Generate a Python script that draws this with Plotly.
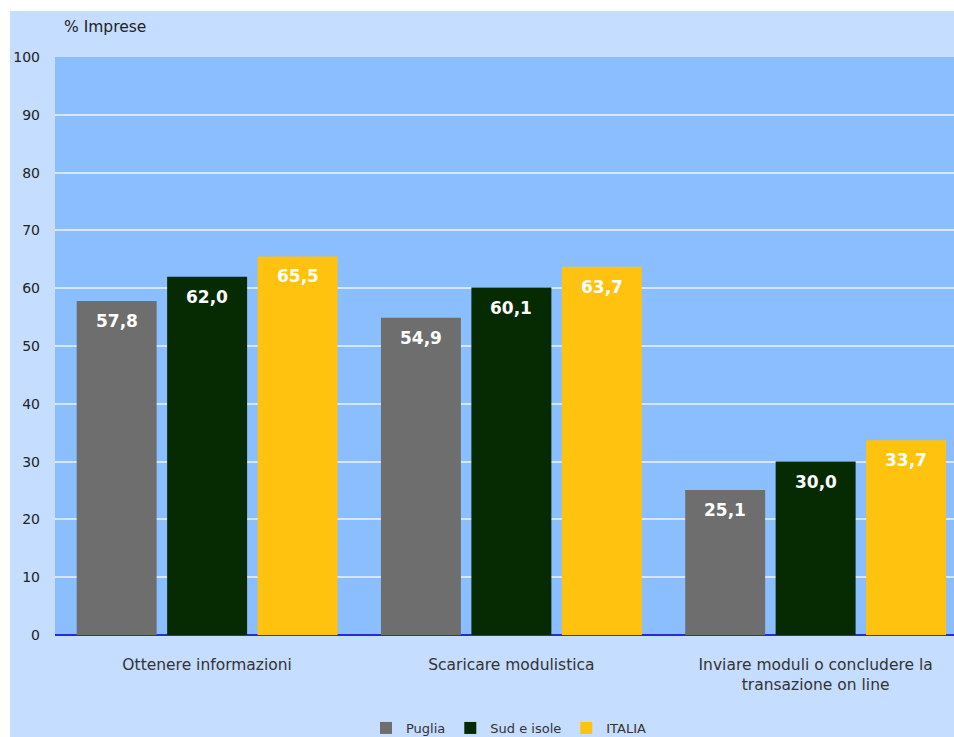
import plotly.graph_objects as go

categories = ["Ottenere informazioni", "Scaricare modulistica",
              "Inviare moduli o concludere la<br>transazione on line"]
series_names = ["Puglia", "Sud e isole", "ITALIA"]
puglia = [57.8, 54.9, 25.1]
sud = [62.0, 60.1, 30.0]
italia = [65.5, 63.7, 33.7]
colors = ["#6E6E6E", "#062A02", "#FFC20E"]
y_ticks = list(range(0, 101, 10))

W, H = 954, 737
L, R, T, B = 55, 0, 57, 102
pw = W - L - R
ph = H - T - B
BARGAP, GROUPGAP = 0.108, 0.116
slot = (1 - BARGAP) / len(series_names)

fig = go.Figure()
for j, (name, vals, col) in enumerate(zip(series_names, [puglia, sud, italia], colors)):
    fig.add_trace(go.Bar(
        x=list(range(len(categories))), y=vals, name=name,
        marker=dict(color=col, line=dict(width=0)),
    ))
    for i, v in enumerate(vals):
        fig.add_annotation(
            x=i + (j - 1) * slot, y=v, xref="x", yref="y",
            text=f"<b>{v:.1f}</b>".replace(".", ","), showarrow=False,
            yanchor="middle", yshift=-20,
            font=dict(family="DejaVu Sans", size=17, color="white"),
        )

font = "DejaVu Sans"
fig.update_layout(
    width=W, height=H,
    margin=dict(l=L, r=R, t=T, b=B, pad=0),
    paper_bgcolor="#C5DDFF", plot_bgcolor="#8ABEFF",
    barmode="group", bargap=BARGAP, bargroupgap=GROUPGAP,
    font=dict(family=font, size=13, color="#222222"),
    showlegend=True,
    legend=dict(orientation="h", x=0.505, xanchor="center",
                yref="container", y=(H - 728) / H, yanchor="middle",
                font=dict(size=13, color="#333333"), itemwidth=30,
                bgcolor="rgba(0,0,0,0)", traceorder="normal"),
)
fig.update_xaxes(
    tickmode="array", tickvals=list(range(len(categories))), ticktext=categories,
    range=[-0.5, -0.5 + pw / 304.25], showgrid=False, zeroline=False,
    showline=False, ticks="", ticklabelstandoff=18,
    tickfont=dict(size=15.5, color="#333333"),
)
fig.update_yaxes(
    range=[0, 100], tickvals=y_ticks, showgrid=True, gridcolor="#D6E6FF", gridwidth=2,
    zeroline=True, zerolinecolor="#2B2BD0", zerolinewidth=2,
    ticks="", ticklabelstandoff=14, tickfont=dict(size=14, color="#222222"),
)
# white outer border strips
fig.add_shape(type="rect", xref="paper", yref="paper", layer="below",
              x0=-L / pw, x1=-(L - 10) / pw, y0=-B / ph - 0.01, y1=(H - T) / ph + 0.01,
              fillcolor="white", line=dict(width=0))
fig.add_shape(type="rect", xref="paper", yref="paper", layer="below",
              x0=-L / pw, x1=1.01, y0=(T - 11) / ph + 1, y1=(T) / ph + 1.01,
              fillcolor="white", line=dict(width=0))
fig.add_annotation(text="% Imprese", xref="paper", yref="paper",
                   x=(62 - L) / pw, y=1 + (T - 27) / ph, xanchor="left", yanchor="middle",
                   showarrow=False, font=dict(size=15.5, color="#222222"))

fig.write_html("out.html")
